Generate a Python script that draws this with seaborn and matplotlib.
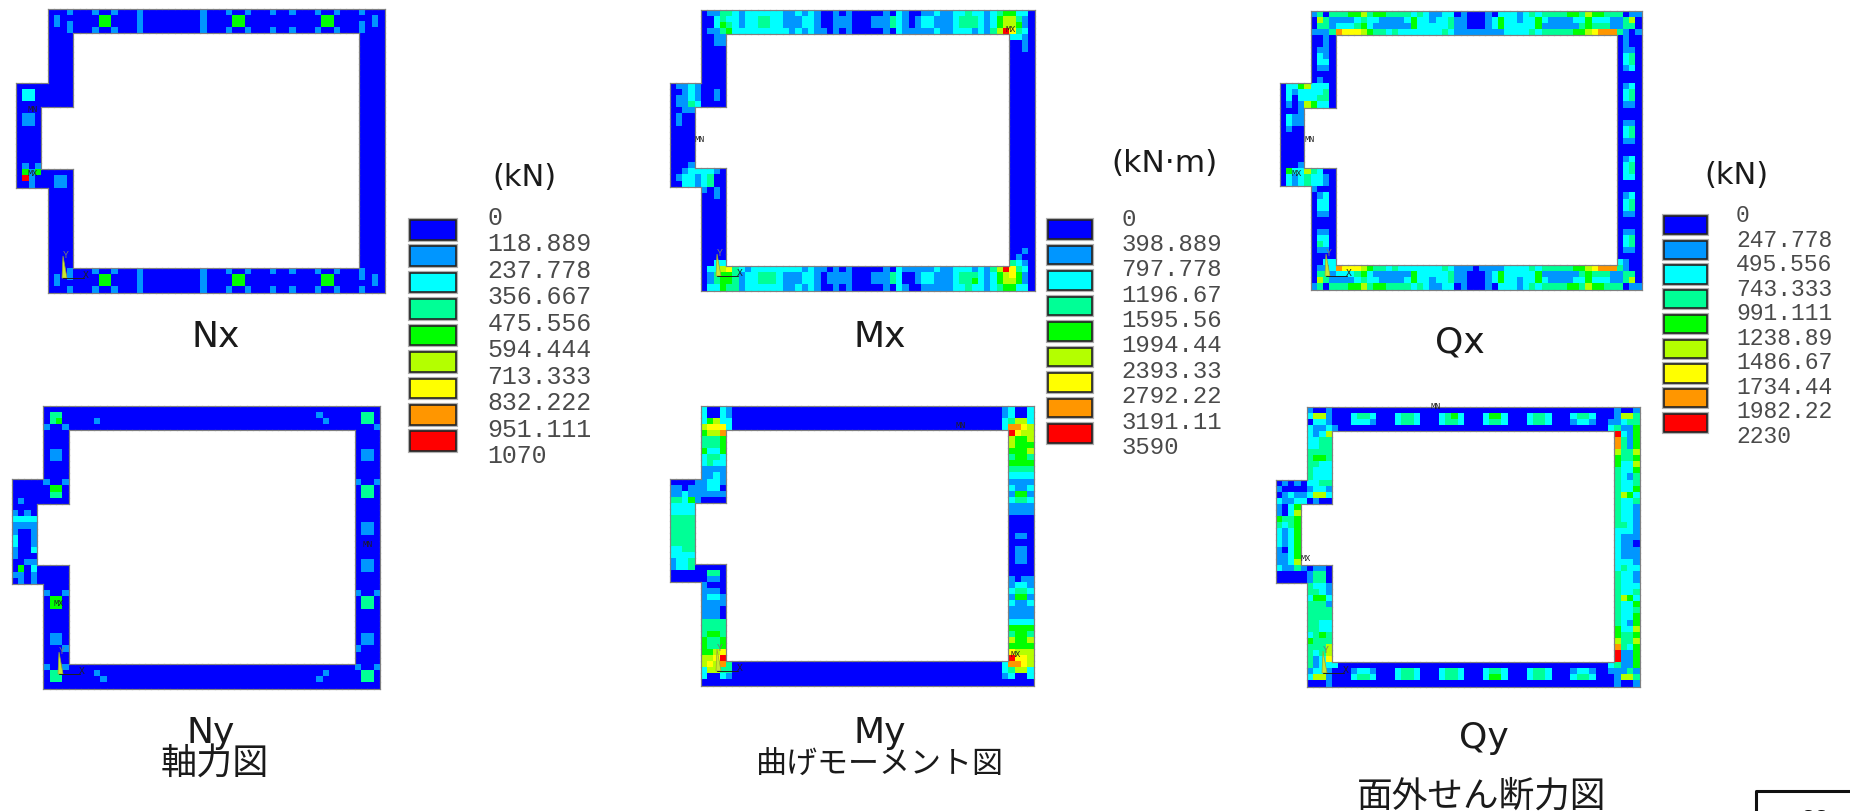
import numpy as np
import seaborn as sns
import matplotlib.pyplot as plt
from matplotlib.colors import ListedColormap
from matplotlib.patches import Polygon

# contour level colours, lowest band first
band_colors = ['#0000FF', '#0096FF', '#00FFFF', '#00FF96', '#00FF00',
               '#B4FF00', '#FFFF00', '#FF9600', '#FF0000']

nx_labels = ['0', '118.889', '237.778', '356.667', '475.556', '594.444',
             '713.333', '832.222', '951.111', '1070']
mx_labels = ['0', '398.889', '797.778', '1196.67', '1595.56', '1994.44',
             '2393.33', '2792.22', '3191.11', '3590']
qx_labels = ['0', '247.778', '495.556', '743.333', '991.111', '1238.89',
             '1486.67', '1734.44', '1982.22', '2230']

# Each digit is the contour band of one mesh cell.
# Spaces only group the columns for reading.

# Nx
nx_top = ['0001000100 1000100000 0000100010 0100010010 0010010001 000',
          '0100000044 0000100000 0000100004 4000000000 0004400000 010',
          '0101000044 0000100000 0000100004 4000000000 0004400001 010',
          '0001000100 1000100000 0000100010 0100010010 0010010001 000']
nx_left_up = ['0000'] * 8
nx_stub_up = ['000000000', '022000000', '022000000', '000000000']
nx_stub_mid = ['0000', '0110', '0110', '0000', '0000', '0000', '0000', '0000', '0000', '0101']
nx_stub_low = ['041400000', '081000110', '001000110']
nx_left_low = ['0000'] * 13
nx_right = ['0000'] * 38
nx_bottom = ['0001000100 1000100000 0000100010 0100010010 0010010001 000',
             '0101000044 0000100000 0000100004 4000000000 0004400001 010',
             '0100000044 0000100000 0000100004 4000000000 0004400000 010',
             '0001000100 1000100000 0000100010 0100010010 0010010001 000']

# Ny
ny_top = ['0000000000 0000000000 0000000000 0000000000 0000000000 000',
          '0330000000 0000000000 0000000000 0000000000 0001000000 330',
          '0340000010 0000000000 0000000000 0000000000 0000100000 330',
          '1001000000 0000000000 0000000000 0000000000 0000000000 001']
ny_left_up = ['0000', '0000', '0000', '0110', '0110', '0000', '0000', '0000']
ny_stub_up = ['000001001', '000000440', '000000330', '010000000']
ny_stub_mid = ['0000', '1010', '2222', '1111', '1001', '2001', '2001', '1002', '1000', '0011']
ny_stub_low = ['040200000', '110100000', '010100000']
ny_left_low = ['0000', '1001', '0440', '0440', '0000', '0000', '0000', '0000',
               '0110', '0110', '0001', '0000', '0000']
ny_right = ['0000', '0000', '0000', '0110', '0110', '0000', '0000', '0000', '1001', '0330',
            '0330', '0000', '0000', '0000', '0000', '0110', '0110', '0000', '0000', '0000',
            '0000', '0110', '0110', '0000', '0000', '0000', '1001', '0330', '0330', '0000',
            '0000', '0000', '0000', '0110', '0110', '1000', '0000', '0000']
ny_bottom = ['1001000000 0000000000 0000000000 0000000000 0000000001 001',
             '0330000010 0000000000 0000000000 0000000000 0000100000 330',
             '0330000001 0000000000 0000000000 0000000000 0001000000 330',
             '0000000000 0000000000 0000000000 0000000000 0000000000 000']

# Mx
mx_top = ['0113321222 2221121210 0101000001 0210011211 2232212344 220',
          '0023221223 3221112210 0111000111 3210122111 2333212455 310',
          '0024321223 3221112210 0111000111 3210122111 2333212455 410',
          '0113422222 2222121211 0101000001 0211111211 2221213586 320']
mx_left_up = ['0011', '0011', '0000', '0000', '0000', '0000', '0000', '0000']
mx_stub_up = ['011210000', '001210010', '011210010', '011320000']
mx_stub_mid = ['0011', '0100', '0100', '0000', '0000', '0000', '0000', '0000', '0000', '0001']
mx_stub_low = ['001222210', '012212300', '002212300']
mx_left_low = ['1010', '0010', '0000', '0000', '0000', '0000', '0000', '0000', '0000',
               '0000', '0000', '0000', '0022']
mx_right = ['2210', '0010', '0010'] + ['0000'] * 32 + ['0010', '0100', '3210']
mx_bottom = ['0225632122 2222221211 0101000001 0211111211 2221213586 320',
             '0134431223 3321112210 1111000111 3200122111 2333212456 410',
             '0134431223 3321112210 1111000111 3200122111 2334212455 410',
             '0224331222 2221121210 0101000001 0210011111 2232212344 220']

# My
my_top = ['2002100000 0000000000 0000000000 0000000000 0000000012 002',
          '2002100000 0000000000 0000000000 0000000000 0000000012 002',
          '2452200000 0000000000 0000000000 0000000000 0000000023 552',
          '5666200000 0000000000 0000000000 0000000000 0000000027 765']
my_left_up = ['4557', '3334', '3334', '4224', '2332', '2322', '1111', '1121']
my_stub_up = ['000011221', '110111220', '112111111', '332410000']
my_stub_mid = ['2222', '2222', '3333', '3333', '3333', '3333', '3333', '2233', '2222', '1223']
my_stub_low = ['122300000', '000000330', '000000110']
my_left_low = ['1000', '1110', '1221', '1111', '1110', '1110', '3333', '3333', '3443',
               '4334', '4334', '4456', '5568']
my_right = ['8655', '5445', '5444', '4445', '3443', '4444', '3333', '2222', '1111', '2112',
            '1441', '2332', '1111', '1111', '0000', '0000', '0000', '0110', '0000', '0110',
            '0110', '0110', '0000', '0000', '1011', '1221', '2332', '1441', '2112', '1111',
            '1111', '2222', '4444', '3443', '5445', '4444', '6555', '8665']
my_bottom = ['5657300000 0000000000 0000000000 0000000000 0000000027 765',
             '2553300000 0000000000 0000000000 0000000000 0000000023 552',
             '2002100000 0000000000 0000000000 0000000000 0000000012 002',
             '0000000000 0000000000 0000000000 0000000000 0000000000 000']

# Qx
qx_top = ['1303334453 4433332321 1220100010 2221232333 3443544333 011',
          '0531111232 2111124221 2231100012 4221224211 1122422211 350',
          '0331222342 1111114222 2231100012 4222224111 1113433311 330',
          '1113766654 3323222222 2321111111 1222232333 3344567773 101']
qx_left_up = ['0010', '0010', '0110', '0210', '0220', '0110', '0000', '0100']
qx_stub_up = ['022452220', '021222230', '020222330', '010154220']
qx_stub_mid = ['0001', '0211', '0211', '0100', '0000', '0000', '0000', '0000', '0000', '0001']
qx_stub_low = ['042253200', '021232210', '021232210']
qx_left_low = ['1000', '0120', '0220', '0220', '0110', '0000', '0000', '0110', '0220',
               '0320', '0110', '0000', '0022']
qx_right = ['0100', '0100', '0110', '0230', '0230', '0120', '0000', '0000', '0120', '0230',
            '0230', '0110', '0000', '0000', '0110', '0230', '0230', '0110', '0000', '0000',
            '0120', '0230', '0230', '0220', '0000', '0000', '0120', '0230', '0230', '0110',
            '0000', '0000', '0110', '0230', '0230', '0110', '0000', '2100']
qx_bottom = ['0112766654 3323222222 2321110111 1222232333 3344567773 100',
             '0331222342 1111114222 2231100012 4222224111 1113433311 330',
             '0531111232 2111124221 2231100012 4221224211 1122422211 350',
             '1303334453 4433332321 1220100010 2221232333 3443544333 011']

# Qy
qy_top = ['1001000000 0000000000 0000000000 0000000000 0000000001 001',
          '2551000233 2000233200 0234200024 4200023320 0023320001 553',
          '0221000222 1000233200 0233200023 3200023320 0012210011 233',
          '2112100000 0000000000 0000000000 0000000000 0000000023 114']
qy_left_up = ['2125', '2233', '2233', '3333', '3443', '3322', '3222', '3222']
qy_stub_up = ['010102233', '100001221', '012112552', '211220100']
qy_stub_mid = ['1024', '1025', '4334', '3234', '2124', '2124', '2124', '1024', '1124', '1125']
qy_stub_low = ['211310110', '000001330', '000001330']
qy_left_low = ['3221', '3321', '2442', '3331', '3333', '3333', '3322', '3322', '2343',
               '4333', '3335', '3235', '3126']
qy_right = ['8214', '7314', '7314', '5335', '4334', '4225', '3224', '3213', '3223', '3224',
            '3542', '3223', '3221', '3221', '3221', '3321', '2221', '2111', '2110', '2111',
            '2111', '2221', '2322', '3221', '3221', '3222', '3223', '3542', '3224', '3223',
            '3224', '3214', '4225', '4334', '5335', '7324', '8114', '8114']
qy_bottom = ['3122200000 0000000000 0000000000 0000000000 0000000023 114',
             '1221000122 1000233200 0233200023 3200023320 0012210011 131',
             '2551000233 2000233200 0233200024 4200023320 0023320001 553',
             '0001000000 0000000000 0000000000 0000000000 0000000001 001']

N_ROWS, N_COLS = 46, 58
W, H = 1850, 812


def put(grid, rows, first_row, first_col):
    for r, row in enumerate(rows):
        vals = row.replace(' ', '')
        for c, ch in enumerate(vals):
            grid[first_row + r, first_col + c] = int(ch)


# put the wall pieces together into one frame shaped grid
def build(top, left_up, stub_up, stub_mid, stub_low, left_low, right, bottom):
    grid = np.full((N_ROWS, N_COLS), np.nan)
    put(grid, top, 0, 5)
    put(grid, left_up, 4, 5)
    put(grid, stub_up, 12, 0)
    put(grid, stub_mid, 16, 0)
    put(grid, stub_low, 26, 0)
    put(grid, left_low, 29, 5)
    put(grid, right, 4, 54)
    put(grid, bottom, 42, 5)
    return grid


def add_axes_px(fig, x0, y0, x1, y1):
    return fig.add_axes([x0 / W, 1 - y1 / H, (x1 - x0) / W, (y1 - y0) / H])


def draw_panel(fig, grid, box, cmap):
    ax = add_axes_px(fig, *box)
    sns.heatmap(grid, ax=ax, mask=np.isnan(grid), cmap=cmap, vmin=-0.5, vmax=8.5,
                cbar=False, xticklabels=False, yticklabels=False, square=False)
    ax.patch.set_alpha(0)
    # grey line round the shape, from the mask
    solid = ~np.isnan(grid)
    padded = np.pad(solid, 1)
    hor = padded[1:, 1:-1] != padded[:-1, 1:-1]
    ver = padded[1:-1, 1:] != padded[1:-1, :-1]
    for r, c in zip(*np.nonzero(hor)):
        ax.plot([c, c + 1], [r, r], color='#808080', lw=0.85, clip_on=False, solid_capstyle='projecting')
    for r, c in zip(*np.nonzero(ver)):
        ax.plot([c, c], [r, r + 1], color='#808080', lw=0.85, clip_on=False, solid_capstyle='projecting')
    return ax


def draw_legend(fig, page, box, labels, label_x, label_y0, label_dy, fontsize):
    ax = add_axes_px(fig, *box)
    levels = np.arange(len(band_colors))
    h = 0.74
    ax.barh(levels, np.ones(len(levels)), height=h, color='none', edgecolor='#b0b0b0', lw=3, clip_on=False)
    ax.barh(levels, np.ones(len(levels)), height=h, color=band_colors, edgecolor='#222222', lw=1.2, clip_on=False)
    ax.set_xlim(0, 1)
    ax.set_ylim(levels[-1] + h / 2, -h / 2)
    ax.axis('off')
    for i, lab in enumerate(labels):
        page.text(label_x, label_y0 + i * label_dy, lab, family='Liberation Mono', fontsize=fontsize,
                  color='#4a4a4a', ha='left', va='center')


def draw_triad(page, x, y):
    page.add_patch(Polygon([[x - 1, y], [x + 4, y], [x, y - 22]], facecolor='#c8e830', edgecolor='#9aa830', lw=0.5))
    page.plot([x, x + 21], [y, y], color='#202020', lw=0.7)
    page.text(x + 3, y - 24, 'Y', family='Liberation Mono', fontsize=7, color='#777777', ha='center', va='center')
    page.text(x + 23, y - 4, 'X', family='Liberation Mono', fontsize=7, color='#202020', ha='center', va='center')


sns.set_theme(style='white')
plt.rcParams['font.family'] = ['DejaVu Sans', 'Noto Sans CJK JP']

fig = plt.figure(figsize=(18.5, 8.12), dpi=100)
cmap = ListedColormap(band_colors)

page = fig.add_axes([0, 0, 1, 1], zorder=5)
page.set_xlim(0, W)
page.set_ylim(H, 0)
page.axis('off')

draw_panel(fig, build(nx_top, nx_left_up, nx_stub_up, nx_stub_mid, nx_stub_low, nx_left_low, nx_right, nx_bottom),
           (16, 9.5, 384.5, 293.5), cmap)
draw_panel(fig, build(ny_top, ny_left_up, ny_stub_up, ny_stub_mid, ny_stub_low, ny_left_low, ny_right, ny_bottom),
           (11.5, 406.5, 380, 689.5), cmap)
draw_panel(fig, build(mx_top, mx_left_up, mx_stub_up, mx_stub_mid, mx_stub_low, mx_left_low, mx_right, mx_bottom),
           (669.5, 10.5, 1034.5, 291.5), cmap)
draw_panel(fig, build(my_top, my_left_up, my_stub_up, my_stub_mid, my_stub_low, my_left_low, my_right, my_bottom),
           (669.5, 406.5, 1033.5, 686.5), cmap)
draw_panel(fig, build(qx_top, qx_left_up, qx_stub_up, qx_stub_mid, qx_stub_low, qx_left_low, qx_right, qx_bottom),
           (1279.5, 11.5, 1641.5, 290.5), cmap)
draw_panel(fig, build(qy_top, qy_left_up, qy_stub_up, qy_stub_mid, qy_stub_low, qy_left_low, qy_right, qy_bottom),
           (1275.5, 407.5, 1639.5, 687.5), cmap)

draw_legend(fig, page, (410, 221, 456, 452), nx_labels, 487.5, 218, 26.45, 17.9)
draw_legend(fig, page, (1048, 221, 1092, 444), mx_labels, 1121.5, 219, 25.4, 17.3)
draw_legend(fig, page, (1664, 217, 1707, 433), qx_labels, 1736, 215.7, 24.5, 16.6)

# small node markers and coordinate triads of the solver plots
for x, y, name in [(33, 109, 'MN'), (33, 173, 'MX'), (368, 545, 'MN'), (59, 604, 'MX'),
                   (700, 140, 'MN'), (1011, 30, 'MX'), (961, 426, 'MN'), (1016, 655, 'MX'),
                   (1310, 140, 'MN'), (1297, 173, 'MX'), (1436, 407, 'MN'), (1306, 559, 'MX')]:
    page.text(x, y, name, family='Liberation Mono', fontsize=6.2, color='#202020', ha='center', va='center')
for x, y in [(63, 279), (59, 675), (717, 277), (717, 672), (1326, 277), (1323, 674)]:
    draw_triad(page, x, y)

# titles and units
for x, y, txt, size in [(524, 177, '(kN)', 22), (1164, 164, '(kN·m)', 22.5), (1736, 176, '(kN)', 22),
                        (216, 337, 'Nx', 26), (880, 337, 'Mx', 26), (1460, 343, 'Qx', 26),
                        (211, 733, 'Ny', 26), (880, 733, 'My', 26), (1484, 738, 'Qy', 26),
                        (215, 765, '軸力図', 26), (880, 765, '曲げモーメント図', 22.3), (1482, 797, '面外せん断力図', 25.7)]:
    page.text(x, y, txt, fontsize=size, color='#1a1a1a', ha='center', va='center')

# page number box, runs off the sheet
page.plot([1756, 1756, 1850], [812, 792, 792], color='#111111', lw=2.2, clip_on=False)
page.text(1814, 820, '66', fontsize=16, color='#111111', ha='center', va='center')

fig.savefig('out.png', dpi=100, facecolor='white')
